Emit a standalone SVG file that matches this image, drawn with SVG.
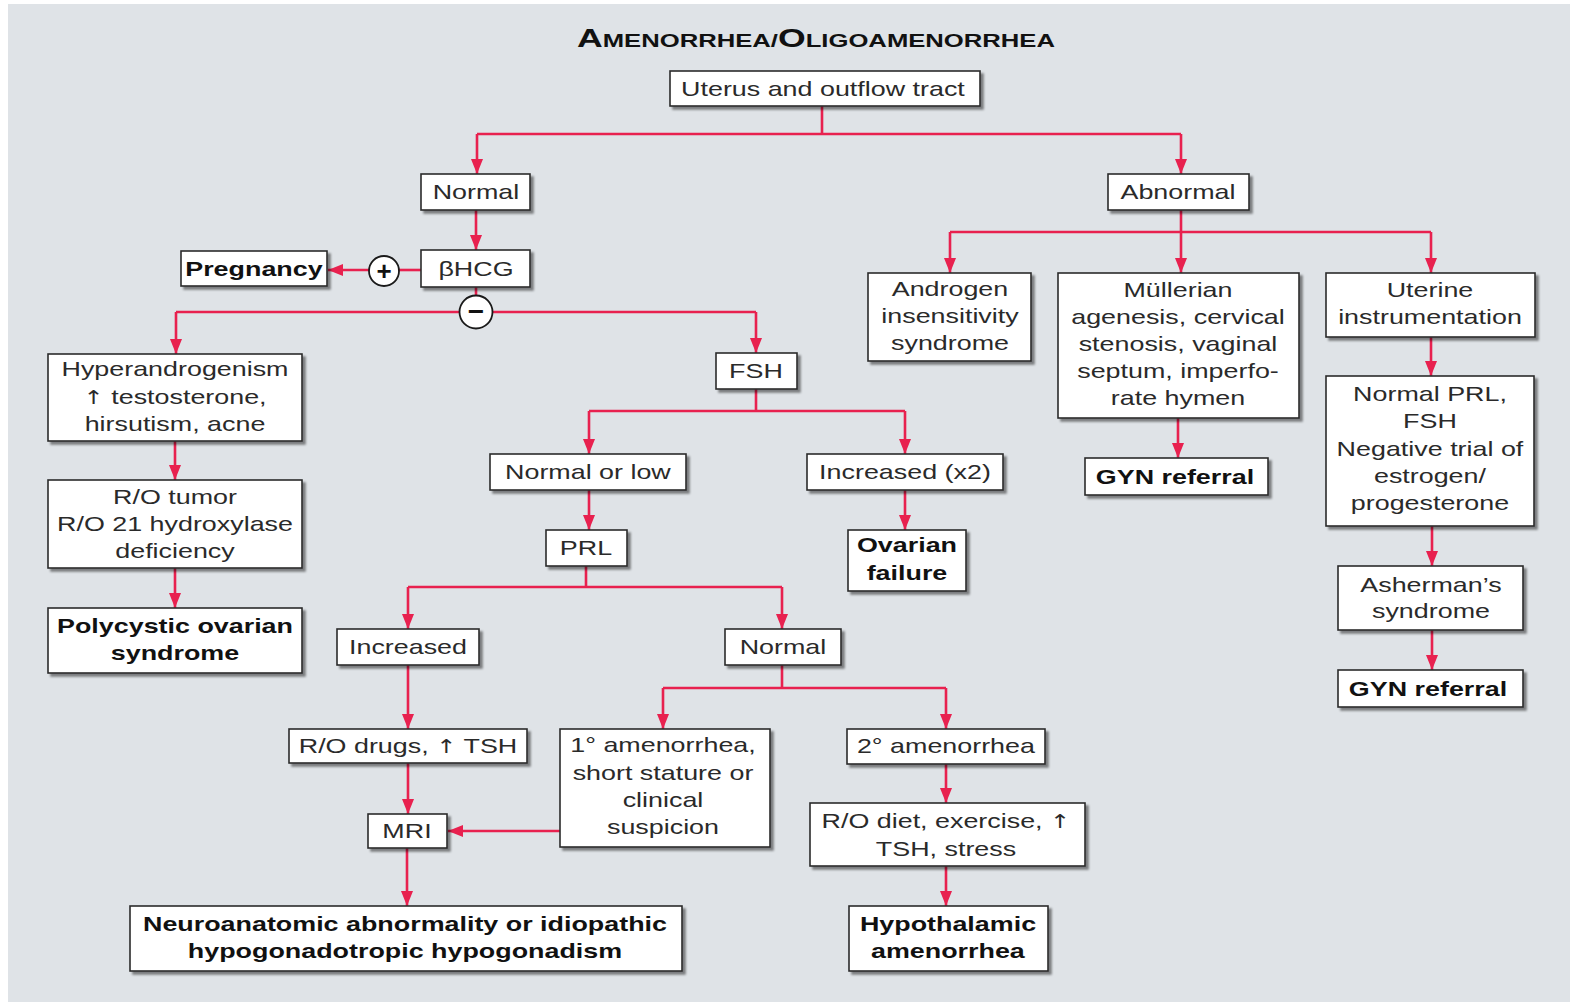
<svg xmlns="http://www.w3.org/2000/svg" width="1570" height="1002" viewBox="0 0 1570 1002">
<style>
.bx{fill:#fff;stroke:#2b2b2b;stroke-width:1.6;filter:url(#sh)}
.t{font-family:"Liberation Sans",Arial,sans-serif;font-size:21px;fill:#2a2a2a;text-anchor:middle;transform-box:fill-box;transform-origin:center;transform:scaleX(1.28)}
.b{font-weight:bold;fill:#111}
.up{font-family:"DejaVu Sans",sans-serif;font-size:19px}
.c{fill:none;stroke:#e8214f;stroke-width:2.6}
.a{marker-end:url(#ar)}
.sym{fill:#fff;stroke:#1a1a1a;stroke-width:1.8}
.st{font-family:"Liberation Sans",Arial,sans-serif;font-weight:bold;fill:#111;text-anchor:middle}
</style>
<defs>
<filter id="sh" x="-10%" y="-10%" width="130%" height="140%">
<feDropShadow dx="3" dy="3" stdDeviation="1.3" flood-color="#000" flood-opacity="0.45"/>
</filter>
<marker id="ar" markerUnits="userSpaceOnUse" markerWidth="16" markerHeight="13" refX="15" refY="6" orient="auto">
<path d="M0,0 L15,6 L0,12 z" fill="#e8214f"/>
</marker>
</defs>
<rect x="0" y="0" width="1570" height="1002" fill="#fff"/>
<rect x="8" y="4" width="1562" height="998" fill="#dfe3e7"/>
<text x="816" y="47" font-family="'Liberation Sans',Arial,sans-serif" font-weight="bold" fill="#111" text-anchor="middle" textLength="478" lengthAdjust="spacingAndGlyphs"><tspan font-size="25">A</tspan><tspan font-size="18">MENORRHEA/</tspan><tspan font-size="25">O</tspan><tspan font-size="18">LIGOAMENORRHEA</tspan></text>

<g id="connectors">
<path class="c" d="M822,106 V134 M477,134 H1181"/>
<path class="c a" d="M477,134 V174"/>
<path class="c a" d="M1181,134 V174"/>
<path class="c a" d="M476,210 V250"/>
<path class="c" d="M421,270 H399"/>
<path class="c a" d="M369,270 H328"/>
<path class="c" d="M476,287 V296 M176,312 H459 M493,312 H756"/>
<path class="c a" d="M176,312 V354"/>
<path class="c a" d="M756,312 V353"/>
<path class="c a" d="M175,441 V480"/>
<path class="c a" d="M175,568 V608"/>
<path class="c" d="M756,389 V411 M589,411 H905"/>
<path class="c a" d="M589,411 V454"/>
<path class="c a" d="M905,411 V454"/>
<path class="c a" d="M589,490 V530"/>
<path class="c a" d="M905,490 V530"/>
<path class="c" d="M586,566 V587 M408,587 H782"/>
<path class="c a" d="M408,587 V629"/>
<path class="c a" d="M782,587 V629"/>
<path class="c a" d="M408,665 V729"/>
<path class="c a" d="M408,763 V814"/>
<path class="c a" d="M560,831 H448"/>
<path class="c a" d="M407,848 V906"/>
<path class="c" d="M782,665 V688 M663,688 H946"/>
<path class="c a" d="M663,688 V729"/>
<path class="c a" d="M946,688 V729"/>
<path class="c a" d="M946,764 V803"/>
<path class="c a" d="M946,866 V906"/>
<path class="c" d="M1181,210 V232 M950,232 H1431"/>
<path class="c a" d="M950,232 V273"/>
<path class="c a" d="M1181,232 V273"/>
<path class="c a" d="M1431,232 V273"/>
<path class="c a" d="M1178,418 V458"/>
<path class="c a" d="M1431,337 V376"/>
<path class="c a" d="M1432,526 V566"/>
<path class="c a" d="M1432,630 V670"/>
</g>

<g id="uterus"><rect class="bx" x="670" y="71" width="310" height="35"/><text class="t" x="823" y="96">Uterus and outflow tract</text></g>
<g id="normal1"><rect class="bx" x="421" y="174" width="109" height="36"/><text class="t" x="476" y="199">Normal</text></g>
<g id="bhcg"><rect class="bx" x="421" y="250" width="109" height="37"/><text class="t" x="476" y="276">βHCG</text></g>
<g id="pregnancy"><rect class="bx" x="181" y="251" width="146" height="35"/><text class="t b" x="254" y="276">Pregnancy</text></g>
<g id="plus"><circle class="sym" cx="384" cy="271" r="15"/><text class="st" x="384" y="280" font-size="26">+</text></g>
<g id="minus"><circle class="sym" cx="476" cy="312" r="16.5"/><text class="st" x="476" y="321" font-size="28">−</text></g>
<g id="hyper"><rect class="bx" x="48" y="354" width="254" height="87"/><text class="t" x="175" y="376">Hyperandrogenism</text><text class="t" x="175" y="404"><tspan class="up">↑</tspan> testosterone,</text><text class="t" x="175" y="431">hirsutism, acne</text></g>
<g id="rotumor"><rect class="bx" x="48" y="480" width="254" height="88"/><text class="t" x="175" y="504">R/O tumor</text><text class="t" x="175" y="531">R/O 21 hydroxylase</text><text class="t" x="175" y="558">deficiency</text></g>
<g id="pcos"><rect class="bx" x="48" y="608" width="254" height="65"/><text class="t b" x="175" y="633">Polycystic ovarian</text><text class="t b" x="175" y="660">syndrome</text></g>
<g id="fsh"><rect class="bx" x="716" y="353" width="81" height="36"/><text class="t" x="756" y="378">FSH</text></g>
<g id="normlow"><rect class="bx" x="490" y="454" width="196" height="36"/><text class="t" x="588" y="479">Normal or low</text></g>
<g id="incx2"><rect class="bx" x="807" y="454" width="196" height="36"/><text class="t" x="905" y="479">Increased (x2)</text></g>
<g id="prl"><rect class="bx" x="546" y="530" width="81" height="36"/><text class="t" x="586" y="555">PRL</text></g>
<g id="ovfail"><rect class="bx" x="848" y="530" width="118" height="61"/><text class="t b" x="907" y="552">Ovarian</text><text class="t b" x="907" y="580">failure</text></g>
<g id="increased"><rect class="bx" x="337" y="629" width="142" height="36"/><text class="t" x="408" y="654">Increased</text></g>
<g id="normal2"><rect class="bx" x="725" y="629" width="116" height="36"/><text class="t" x="783" y="654">Normal</text></g>
<g id="rodrugs"><rect class="bx" x="289" y="729" width="238" height="34"/><text class="t" x="408" y="753">R/O drugs, <tspan class="up">↑</tspan> TSH</text></g>
<g id="mri"><rect class="bx" x="368" y="814" width="79" height="34"/><text class="t" x="407" y="838">MRI</text></g>
<g id="prim"><rect class="bx" x="560" y="729" width="210" height="118"/><text class="t" x="663" y="752">1° amenorrhea,</text><text class="t" x="663" y="780">short stature or</text><text class="t" x="663" y="807">clinical</text><text class="t" x="663" y="834">suspicion</text></g>
<g id="sec"><rect class="bx" x="847" y="729" width="198" height="35"/><text class="t" x="946" y="753">2° amenorrhea</text></g>
<g id="rodiet"><rect class="bx" x="810" y="803" width="275" height="63"/><text class="t" x="946" y="828">R/O diet, exercise, <tspan class="up">↑</tspan></text><text class="t" x="946" y="856">TSH, stress</text></g>
<g id="neuro"><rect class="bx" x="130" y="906" width="552" height="65"/><text class="t b" x="405" y="931">Neuroanatomic abnormality or idiopathic</text><text class="t b" x="405" y="958">hypogonadotropic hypogonadism</text></g>
<g id="hypoth"><rect class="bx" x="849" y="906" width="199" height="65"/><text class="t b" x="948" y="931">Hypothalamic</text><text class="t b" x="948" y="958">amenorrhea</text></g>
<g id="abnormal"><rect class="bx" x="1108" y="174" width="141" height="36"/><text class="t" x="1178" y="199">Abnormal</text></g>
<g id="androgen"><rect class="bx" x="868" y="273" width="163" height="88"/><text class="t" x="950" y="296">Androgen</text><text class="t" x="950" y="323">insensitivity</text><text class="t" x="950" y="350">syndrome</text></g>
<g id="mullerian"><rect class="bx" x="1058" y="273" width="241" height="145"/><text class="t" x="1178" y="297">Müllerian</text><text class="t" x="1178" y="324">agenesis, cervical</text><text class="t" x="1178" y="351">stenosis, vaginal</text><text class="t" x="1178" y="378">septum, imperfo-</text><text class="t" x="1178" y="405">rate hymen</text></g>
<g id="uterine"><rect class="bx" x="1326" y="273" width="209" height="64"/><text class="t" x="1430" y="297">Uterine</text><text class="t" x="1430" y="324">instrumentation</text></g>
<g id="gyn1"><rect class="bx" x="1085" y="458" width="183" height="37"/><text class="t b" x="1175" y="484">GYN referral</text></g>
<g id="normprl"><rect class="bx" x="1326" y="376" width="208" height="150"/><text class="t" x="1430" y="401">Normal PRL,</text><text class="t" x="1430" y="428">FSH</text><text class="t" x="1430" y="456">Negative trial of</text><text class="t" x="1430" y="483">estrogen/</text><text class="t" x="1430" y="510">progesterone</text></g>
<g id="asherman"><rect class="bx" x="1338" y="566" width="185" height="64"/><text class="t" x="1431" y="592">Asherman’s</text><text class="t" x="1431" y="618">syndrome</text></g>
<g id="gyn2"><rect class="bx" x="1338" y="670" width="185" height="37"/><text class="t b" x="1428" y="696">GYN referral</text></g>
</svg>
